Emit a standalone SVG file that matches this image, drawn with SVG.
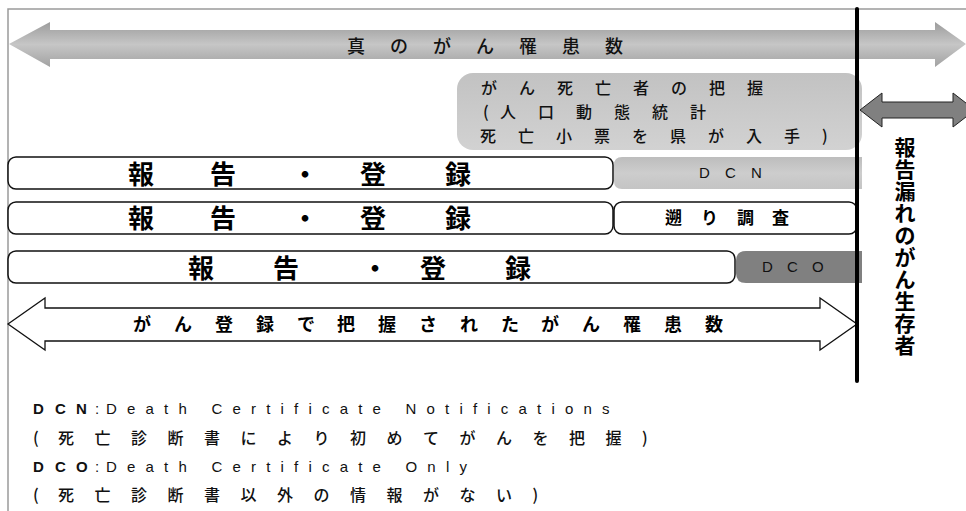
<svg xmlns="http://www.w3.org/2000/svg" width="966" height="511" viewBox="0 0 966 511">
<defs>
<linearGradient id="gTop" x1="0" y1="0" x2="0" y2="1">
<stop offset="0" stop-color="#9c9c9c"/>
<stop offset="0.5" stop-color="#c6c6c6"/>
<stop offset="1" stop-color="#a2a2a2"/>
</linearGradient>
<linearGradient id="gBox" x1="0" y1="0" x2="0" y2="1">
<stop offset="0" stop-color="#c2c2c2"/>
<stop offset="1" stop-color="#d2d2d2"/>
</linearGradient>
<linearGradient id="gDcn" x1="0" y1="0" x2="0" y2="1">
<stop offset="0" stop-color="#bdbdbd"/>
<stop offset="0.5" stop-color="#cdcdcd"/>
<stop offset="1" stop-color="#c4c4c4"/>
</linearGradient>
</defs>
<style>
.jp{font-family:"Noto Sans CJK JP","Noto Sans",sans-serif;fill:#111;font-weight:500}
.b{font-weight:bold;fill:#000}
.lat{font-family:"Liberation Sans",Arial,sans-serif;fill:#111}
.wbox{fill:#fff;stroke:#111;stroke-width:1.5}
.frame{stroke:#9a9a9a;stroke-width:1.5;fill:none}
</style>
<rect width="966" height="511" fill="#fff"/>
<path class="frame" d="M8,511 V9 H966"/>

<g id="true-incidence">
<polygon points="9,44 50,22 50,30 935,30 935,22 966,44 935,67 935,59 50,59 50,67" fill="url(#gTop)"/>
<text class="jp" font-size="18" y="53" x="347 390 433 476 519 562 605">真のがん罹患数</text>
</g>

<g id="death-grasp">
<rect x="457" y="73" width="405" height="77" rx="16" fill="url(#gBox)"/>
<text class="jp" font-size="16" y="94" x="481 519 557 595 633 671 709 747">がん死亡者の把握</text>
<text class="jp" font-size="16" y="118" x="483 500 538 576 614 652 690">(人口動態統計</text>
<text class="jp" font-size="16" y="142" x="480 518 556 594 632 670 708 746 784 822">死亡小票を県が入手)</text>
</g>

<g id="row1">
<rect class="wbox" x="8" y="157" width="605" height="32" rx="8"/>
<text class="jp b" font-size="26" y="184" x="128 210 292 360 445">報告・登録</text>
</g>
<g id="dcn">
<path d="M622,157 H862 V189 H622 Q614,189 614,181 V165 Q614,157 622,157 Z" fill="url(#gDcn)"/>
<text class="lat" font-size="15" y="178" x="699 725 751">DCN</text>
</g>

<g id="row2">
<rect class="wbox" x="8" y="202" width="605" height="32" rx="8"/>
<text class="jp b" font-size="26" y="228" x="128 210 292 360 445">報告・登録</text>
</g>
<g id="retro">
<rect class="wbox" x="614" y="202" width="243" height="32" rx="8"/>
<text class="jp b" font-size="17" y="224" x="665 701 737 772">遡り調査</text>
</g>

<g id="row3">
<rect class="wbox" x="8" y="251" width="727" height="32" rx="8"/>
<text class="jp b" font-size="26" y="278" x="188 273 362 420 505">報告・登録</text>
</g>
<g id="dco">
<path d="M746,251 H862 V283 H746 Q736,283 736,273 V261 Q736,251 746,251 Z" fill="#808080"/>
<text class="lat" font-size="15" y="272" x="762 787 812">DCO</text>
</g>

<g id="registered">
<polygon points="8,324 45,298 45,308 820,308 820,298 857,324 820,350 820,341 45,341 45,350" fill="#fff" stroke="#111" stroke-width="1.3"/>
<text class="jp b" font-size="18" y="331" x="133 174 215 256 297 337 378 419 460 501 541 582 623 664 705">がん登録で把握されたがん罹患数</text>
</g>

<g id="connectors">
<line x1="857" y1="9" x2="857" y2="381" stroke="#000" stroke-width="4" stroke-linecap="round"/>
</g>

<g id="unreported">
<polygon points="860,110 882,93 882,102 953,102 953,93 975,110 953,127 953,118 882,118 882,127" fill="#808080" stroke="#222" stroke-width="1"/>
<text class="jp b" font-size="21" text-anchor="middle" x="905 905 905 905 905 905 905 905 905 905" y="155 177 199 221 243 265 287 309 331 353">報告漏れのがん生存者</text>
</g>

<g id="legend">
<text class="lat b" font-size="15" y="414" x="33 55 76">DCN</text>
<text class="lat" font-size="15" y="414" x="95">:</text>
<text class="lat" font-size="15" y="414" x="106" letter-spacing="10.2">Death Certificate Notifications</text>
<text class="jp" font-size="16" y="444" x="33 58 94.5 131 167.5 204 240.5 277 313.5 350 386.5 423 459.5 496 532.5 569 605.5 642">(死亡診断書により初めてがんを把握)</text>
<text class="lat b" font-size="15" y="472" x="33 55 76">DCO</text>
<text class="lat" font-size="15" y="472" x="95">:</text>
<text class="lat" font-size="15" y="472" x="106" letter-spacing="10.2">Death Certificate Only</text>
<text class="jp" font-size="16" y="501" x="33 58 94.5 131 167.5 204 240.5 277 313.5 350 386.5 423 459.5 496 532.5">(死亡診断書以外の情報がない)</text>
</g>
</svg>
